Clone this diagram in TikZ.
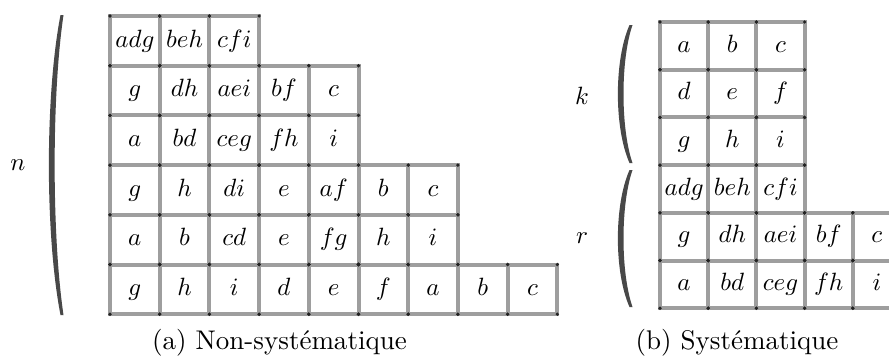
\documentclass[tikz,border=0pt]{standalone}
\usepackage{fontspec}
\definecolor{gridgray}{RGB}{158,158,158}
\definecolor{dotc}{RGB}{35,35,35}
\definecolor{brc}{RGB}{72,72,72}
\tikzset{
  celltext/.style={font=\fontsize{9.9}{12}\selectfont, text height=6.9pt, text depth=1.9pt},
  cellA/.style={celltext, draw=gridgray, line width=1.6pt, minimum width=19.88pt, minimum height=19.88pt, inner sep=0pt, outer sep=0pt},
  cellB/.style={celltext, draw=gridgray, line width=1.6pt, minimum width=19.28pt, minimum height=19.08pt, inner sep=0pt, outer sep=0pt},
  griddot/.style={fill=dotc},
  brack/.style={fill=brc},
  lbl/.style={inner sep=0pt, font=\fontsize{10.4}{13}\selectfont},
  capt/.style={inner sep=0pt, font=\fontsize{10.8}{13}\selectfont}
}
\begin{document}
\begin{tikzpicture}[x=0.4pt,y=-0.4pt]
\useasboundingbox (0,0) rectangle (889,356);
% left grid
\foreach \r/\lst in {1/{adg,beh,cfi},2/{g,dh,aei,bf,c},3/{a,bd,ceg,fh,i},4/{g,h,di,e,af,b,c},5/{a,b,cd,e,fg,h,i},6/{g,h,i,d,e,f,a,b,c}}{
  \foreach \t [count=\c] in \lst {
    \node[cellA] (A\r-\c) at ({110+(\c-0.5)*49.7},{16+(\r-0.5)*49.7}) {$\t$};
  }
}
\foreach \r/\n in {1/3,2/5,3/5,4/7,5/7,6/9}{
  \foreach \c in {1,...,\n}{
    \foreach \a in {north west,north east,south west,south east}{
      \fill[griddot] (A\r-\c.\a) circle (0.72pt);
    }
  }
}
% right grid
\foreach \r/\lst in {1/{a,b,c},2/{d,e,f},3/{g,h,i},4/{adg,beh,cfi},5/{g,dh,aei,bf,c},6/{a,bd,ceg,fh,i}}{
  \foreach \t [count=\c] in \lst {
    \node[cellB] (B\r-\c) at ({660+(\c-0.5)*48.2},{22+(\r-0.5)*47.7}) {$\t$};
  }
}
\foreach \r/\n in {1/3,2/3,3/3,4/3,5/5,6/5}{
  \foreach \c in {1,...,\n}{
    \foreach \a in {north west,north east,south west,south east}{
      \fill[griddot] (B\r-\c.\a) circle (0.72pt);
    }
  }
}
% brackets
\fill[brack] (60.5,15) .. controls (45,95) and (45,235) .. (60.5,315) -- (63.5,315) .. controls (51.7,235) and (51.7,95) .. (63.5,15) -- cycle;
\fill[brack] (629.5,25) .. controls (614,60) and (614,128) .. (629.5,163) -- (632.5,163) .. controls (620.5,128) and (620.5,60) .. (632.5,25) -- cycle;
\fill[brack] (629.5,170) .. controls (614,205) and (614,272) .. (629.5,307) -- (632.5,307) .. controls (620.5,272) and (620.5,205) .. (632.5,170) -- cycle;
% labels
\node[lbl] (n) at (18,165) {$n$};
\node[lbl] (k) at (582,96) {$k$};
\node[lbl] (r) at (582,238) {$r$};
\node[capt] (ca) at (279.5,343) {(a) Non-systématique};
\node[capt] (cb) at (737,343) {(b) Systématique};
\end{tikzpicture}
\end{document}
